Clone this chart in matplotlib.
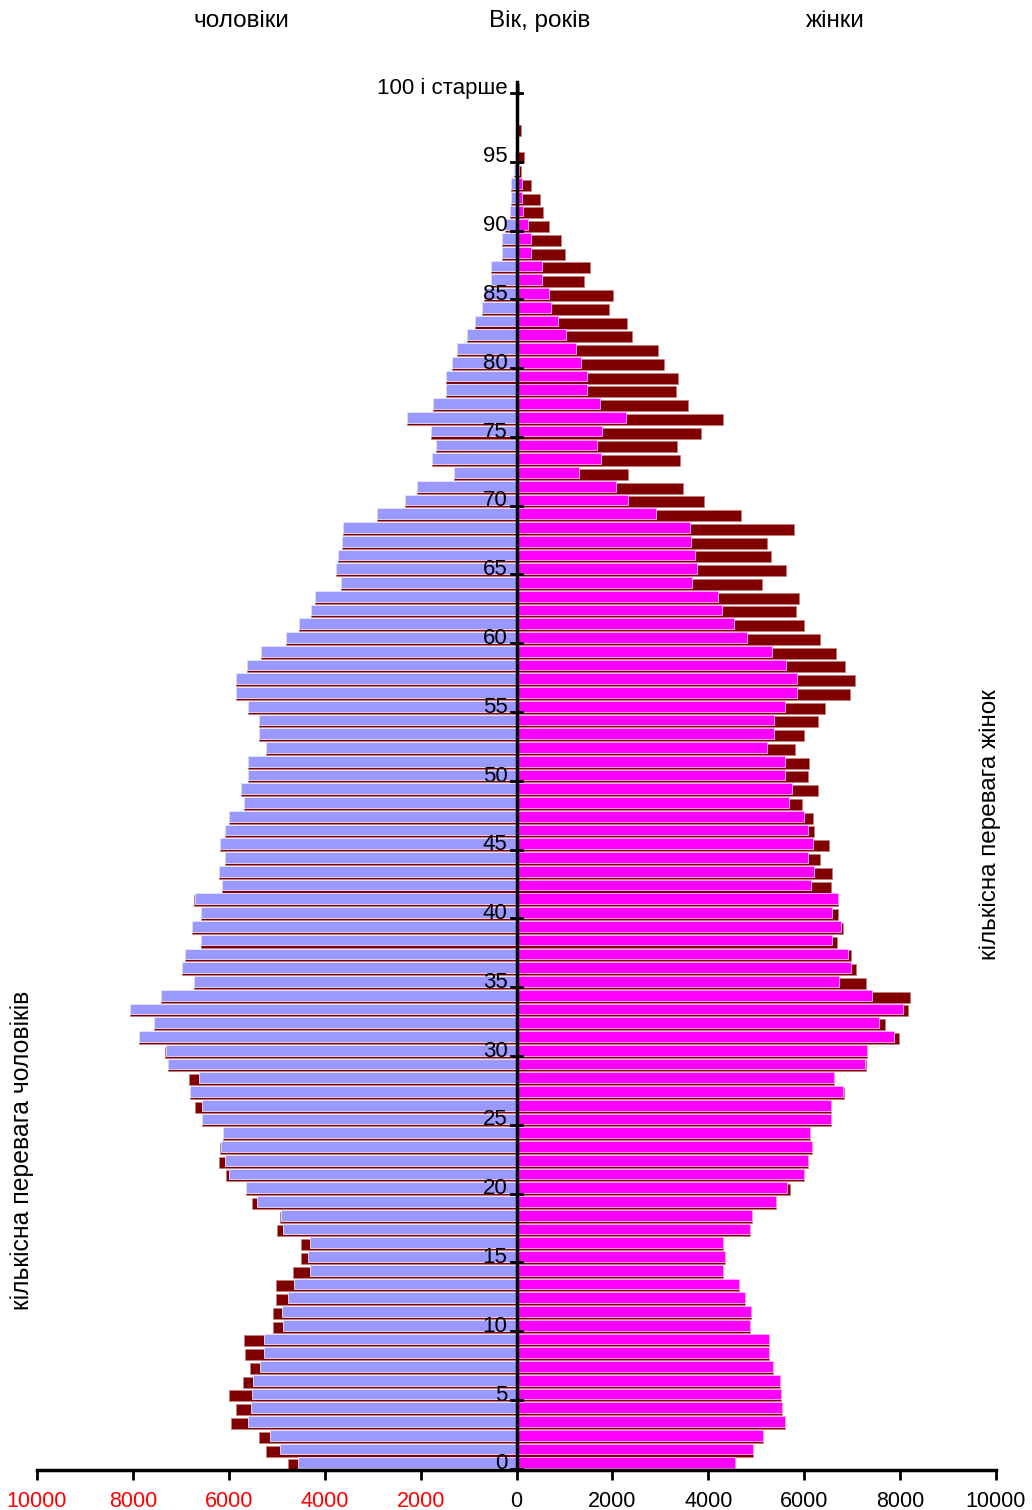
import numpy as np
import matplotlib
matplotlib.use("Agg")
import matplotlib.pyplot as plt

plt.rcParams['font.family'] = ['Liberation Sans', 'DejaVu Sans']

ages = list(range(0, 101))
males = [4770, 5220, 5380, 5960, 5850, 5990, 5710, 5560, 5670, 5680,
         5080, 5080, 5010, 5010, 4670, 4500, 4500, 5000, 4930, 5520,
         5640, 6060, 6210, 6190, 6130, 6560, 6700, 6810, 6830, 7260,
         7330, 7880, 7570, 8060, 7420, 6720, 6980, 6920, 6590, 6770,
         6580, 6730, 6150, 6210, 6070, 6180, 6080, 5990, 5680, 5740,
         5590, 5590, 5230, 5370, 5370, 5590, 5840, 5860, 5630, 5330,
         4800, 4540, 4280, 4200, 3650, 3760, 3720, 3640, 3610, 2910,
         2320, 2080, 1300, 1770, 1670, 1790, 2280, 1740, 1460, 1460,
         1340, 1240, 1040, 870, 720, 670, 540, 540, 310, 310,
         230, 140, 120, 120, 50, 25, 5, 10, 5, 5,
         15]
females = [4560, 4930, 5150, 5610, 5530, 5520, 5500, 5350, 5270, 5260,
           4860, 4900, 4760, 4630, 4300, 4340, 4310, 4870, 4910, 5420,
           5700, 5990, 6070, 6160, 6120, 6550, 6550, 6840, 6630, 7280,
           7310, 7980, 7680, 8170, 8200, 7280, 7070, 6980, 6690, 6800,
           6700, 6700, 6550, 6580, 6320, 6520, 6210, 6190, 5960, 6280,
           6070, 6100, 5810, 5990, 6290, 6430, 6950, 7050, 6850, 6660,
           6330, 5990, 5820, 5890, 5120, 5630, 5310, 5230, 5780, 4680,
           3910, 3470, 2330, 3400, 3350, 3840, 4310, 3580, 3320, 3360,
           3070, 2960, 2400, 2300, 1930, 2010, 1410, 1530, 1020, 930,
           670, 560, 490, 310, 90, 160, 15, 100, 10, 15,
           55]
age_ticks = [0, 5, 10, 15, 20, 25, 30, 35, 40, 45, 50, 55, 60, 65, 70, 75, 80, 85, 90, 95, 100]
age_labels = [str(a) for a in age_ticks[:-1]] + ["100 і старше"]
x_ticks = [-10000, -8000, -6000, -4000, -2000, 0, 2000, 4000, 6000, 8000, 10000]

lavender = "#9999FF"
magenta = "#FF00FF"
maroon = "#800000"

m = np.array(males)
f = np.array(females)
common = np.minimum(m, f)
y = np.array(ages)

fig = plt.figure(figsize=(10.32, 15.10), dpi=100)
ax = fig.add_axes([37 / 1032, 40 / 1510, 959 / 1032, 1388 / 1510])

# dark "shadow"/excess bars behind, full values
ax.barh(y - 0.12, -m, height=0.8, color=maroon, edgecolor="#C08080", linewidth=0.5, zorder=1)
ax.barh(y - 0.12, f, height=0.8, color=maroon, edgecolor="#C08080", linewidth=0.5, zorder=1)
# main bars up to the smaller of the two
ax.barh(y + 0.02, -common, height=0.78, color=lavender, edgecolor="#E6E6FF", linewidth=0.6, zorder=2)
ax.barh(y + 0.02, common, height=0.78, color=magenta, edgecolor="#FFB0FF", linewidth=0.6, zorder=2)

ax.set_xlim(-10000, 10000)
ax.set_ylim(-0.5, 100.4)

for s in ["left", "right", "top"]:
    ax.spines[s].set_visible(False)
ax.spines["bottom"].set_linewidth(2.5)
ax.set_yticks([])
ax.set_xticks(x_ticks)
ax.set_xticklabels([str(abs(v)) for v in x_ticks], fontsize=15.5)
for v, lab in zip(x_ticks, ax.get_xticklabels()):
    lab.set_color("red" if v < 0 else "black")
ax.tick_params(axis="x", direction="out", length=7, width=2, pad=8)

# central age axis
ax.plot([0, 0], [-0.5, 100.4], color="black", lw=2.5, zorder=5, clip_on=False)
for a, lab in zip(age_ticks, age_labels):
    ax.plot([-110, 110], [a - 0.4, a - 0.4], color="black", lw=2, zorder=5)
    ax.text(-190, a - 0.05, lab, ha="right", va="center", fontsize=16, zorder=6)

fig.text(241 / 1032, 1 - 21 / 1510, "чоловіки", ha="center", va="center", fontsize=17.5)
fig.text(540 / 1032, 1 - 21 / 1510, "Вік, років", ha="center", va="center", fontsize=17.5)
fig.text(835 / 1032, 1 - 21 / 1510, "жінки", ha="center", va="center", fontsize=17.5)
fig.text(22 / 1032, 1 - 1150 / 1510, "кількісна перевага чоловіків", rotation=90,
         ha="center", va="center", fontsize=17.8)
fig.text(990 / 1032, 1 - 825 / 1510, "кількісна перевага жінок", rotation=90,
         ha="center", va="center", fontsize=17.5)

fig.savefig("out.png", dpi=100)
